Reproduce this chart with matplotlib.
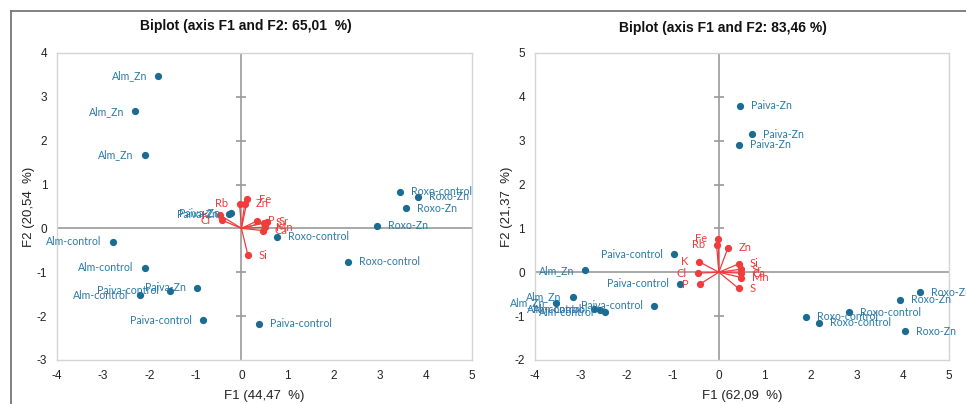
import matplotlib
matplotlib.use('Agg')
import matplotlib.pyplot as plt
from matplotlib.lines import Line2D

plt.rcParams['font.family'] = ['Liberation Sans', 'DejaVu Sans']
plt.rcParams['axes.unicode_minus'] = False

# ---- left biplot (F1 44,47 % / F2 20,54 %) ----
left_obs_names = ['Alm_Zn', 'Alm_Zn', 'Alm_Zn',
                  'Alm-control', 'Alm-control', 'Alm-control',
                  'Paiva-control', 'Paiva-control', 'Paiva-control',
                  'Paiva-Zn', 'Paiva-Zn', 'Paiva-Zn',
                  'Roxo-control', 'Roxo-control', 'Roxo-control',
                  'Roxo-Zn', 'Roxo-Zn', 'Roxo-Zn']
left_obs_f1 = [-1.81, -2.30, -2.10,
               -2.79, -2.10, -2.21,
               -1.55, -0.84, 0.38,
               -0.96, -0.27, -0.22,
               3.43, 0.77, 2.31,
               3.83, 3.56, 2.93]
left_obs_f2 = [3.48, 2.67, 1.68,
               -0.31, -0.90, -1.52,
               -1.42, -2.09, -2.17,
               -1.35, 0.32, 0.34,
               0.84, -0.19, -0.76,
               0.72, 0.46, 0.06]
left_var_names = ['Rb', 'Fe', 'Zn', 'K', 'Cl', 'Sr', 'P', 'S', 'Mn', 'Ca', 'Si']
left_var_f1 = [-0.04, 0.13, 0.07, -0.46, -0.43, 0.56, 0.34, 0.50, 0.51, 0.47, 0.14]
left_var_f2 = [0.56, 0.66, 0.56, 0.30, 0.19, 0.15, 0.17, 0.13, 0.03, -0.05, -0.61]

# ---- right biplot (F1 62,09 % / F2 21,37 %) ----
right_obs_names = ['Paiva-Zn', 'Paiva-Zn', 'Paiva-Zn',
                   'Paiva-control', 'Paiva-control', 'Paiva-control',
                   'Alm_Zn', 'Alm_Zn', 'Alm_Zn',
                   'Alm-control', 'Alm-control', 'Alm-control',
                   'Roxo-Zn', 'Roxo-Zn', 'Roxo-Zn',
                   'Roxo-control', 'Roxo-control', 'Roxo-control']
right_obs_f1 = [0.45, 0.72, 0.44,
                -0.98, -0.85, -1.40,
                -2.90, -3.17, -3.53,
                -2.72, -2.59, -2.47,
                4.37, 3.94, 4.05,
                2.83, 1.90, 2.18]
right_obs_f2 = [3.79, 3.15, 2.91,
                0.41, -0.26, -0.76,
                0.04, -0.56, -0.70,
                -0.84, -0.85, -0.91,
                -0.46, -0.63, -1.35,
                -0.91, -1.02, -1.15]
right_var_names = ['Fe', 'Rb', 'Zn', 'K', 'Cl', 'P', 'Si', 'Sr', 'Ca', 'Mn', 'S']
right_var_f1 = [-0.01, -0.05, 0.20, -0.43, -0.45, -0.41, 0.43, 0.48, 0.48, 0.49, 0.43]
right_var_f2 = [0.76, 0.63, 0.56, 0.24, -0.02, -0.27, 0.19, 0.07, -0.02, -0.12, -0.37]

BLUE_DOT = '#1b6b93'
BLUE_TXT = '#2a7aa8'
RED = '#f03c3c'
LABEL_FONT = ['Lato', 'DejaVu Sans']


def draw_biplot(ax, obs_names, obs_x, obs_y, var_names, var_x, var_y,
                xlim, ylim, xlabel, ylabel):
    """one biplot panel: observations in blue, variable vectors in red"""
    ax.set_xlim(*xlim)
    ax.set_ylim(*ylim)

    # zero axes with small crossing ticks
    ax.axhline(0, color='#9a9a9a', lw=1.2, zorder=1)
    ax.axvline(0, color='#9a9a9a', lw=1.2, zorder=1)
    for yv in range(ylim[0] + 1, ylim[1]):
        if yv != 0:
            ax.plot([0], [yv], marker='_', ms=7, mew=1.2, color='#9a9a9a', zorder=1)

    # variable vectors
    for name, x, y in zip(var_names, var_x, var_y):
        ax.plot([0, x], [0, y], color=RED, lw=0.9, zorder=2)
        ax.plot([x], [y], 'o', ms=4.2, color=RED, zorder=3)
        side = -1 if x < 0 else 1
        ax.annotate(name, (x, y), xytext=(8 * side, 0), textcoords='offset points',
                    ha='right' if side < 0 else 'left', va='center',
                    fontsize=8, color=RED, family=LABEL_FONT, zorder=4)

    # observations
    ax.plot(obs_x, obs_y, 'o', ms=4.2, color=BLUE_DOT, zorder=3, ls='none')
    for name, x, y in zip(obs_names, obs_x, obs_y):
        side = -1 if x < 0 else 1
        ax.annotate(name, (x, y), xytext=(8 * side, 0), textcoords='offset points',
                    ha='right' if side < 0 else 'left', va='center',
                    fontsize=7.6, color=BLUE_TXT, family=LABEL_FONT, zorder=4,
                    annotation_clip=False)

    ax.set_xticks(range(xlim[0], xlim[1] + 1))
    ax.set_yticks(range(ylim[0], ylim[1] + 1))
    ax.tick_params(length=0, labelsize=8.5, colors='#222222', pad=7)
    for s in ax.spines.values():
        s.set_color('#d4d4d4')
        s.set_linewidth(1.0)
    ax.set_xlabel(xlabel, fontsize=9.5, color='#222222', labelpad=6)
    ax.set_ylabel(ylabel, fontsize=9.5, color='#222222', labelpad=1)


fig = plt.figure(figsize=(9.66, 4.04), dpi=100)

# outer frame lines of the source figure
fig.add_artist(Line2D([0.011, 1.0], [0.974, 0.974], color='#777777', lw=1.3))
fig.add_artist(Line2D([0.011, 0.011], [0.0, 0.974], color='#777777', lw=1.3))

ax1 = fig.add_axes([0.059, 0.109, 0.4296, 0.760])
draw_biplot(ax1, left_obs_names, left_obs_f1, left_obs_f2,
            left_var_names, left_var_f1, left_var_f2,
            (-4, 5), (-3, 4), 'F1 (44,47  %)', 'F2 (20,54  %)')

ax2 = fig.add_axes([0.5535, 0.109, 0.4289, 0.760])
draw_biplot(ax2, right_obs_names, right_obs_f1, right_obs_f2,
            right_var_names, right_var_f1, right_var_f2,
            (-4, 5), (-2, 5), 'F1 (62,09  %)', 'F2 (21,37  %)')

fig.text(0.2547, 0.935, 'Biplot (axis F1 and F2: 65,01  %)', ha='center', va='center',
         fontsize=10, fontweight='bold', color='#111111')
fig.text(0.7484, 0.931, 'Biplot (axis F1 and F2: 83,46 %)', ha='center', va='center',
         fontsize=10, fontweight='bold', color='#111111')

fig.savefig('out.png', dpi=100)
